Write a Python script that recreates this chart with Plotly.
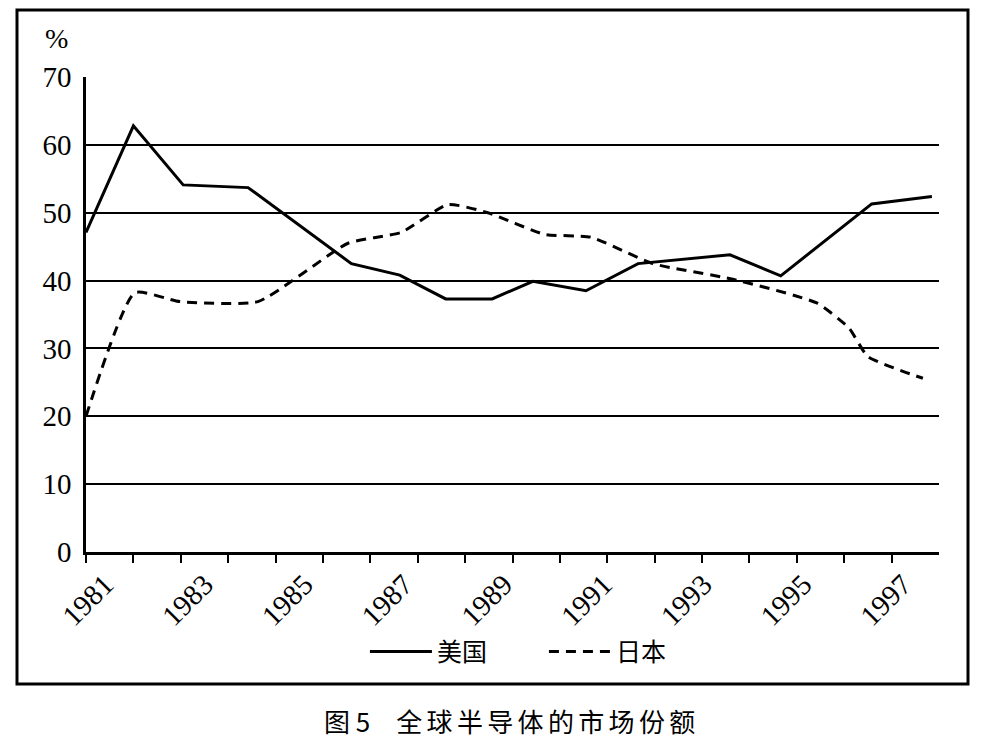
import plotly.graph_objects as go

# ---- data ----
us_years = [1981.0, 1982.0, 1983.05, 1984.42, 1986.6, 1987.62, 1988.59, 1989.57,
            1990.43, 1991.55, 1992.65, 1994.59, 1995.66, 1997.58, 1998.85]
us_share = [47.1, 62.8, 54.1, 53.7, 42.5, 40.8, 37.3, 37.3,
            39.9, 38.5, 42.5, 43.8, 40.7, 51.3, 52.4]

jp_years = [1981.0, 1982.03, 1982.98, 1984.63, 1986.53, 1987.65, 1988.64, 1989.48,
            1990.68, 1991.65, 1992.96, 1994.65, 1996.42, 1997.1, 1997.5, 1998.66]
jp_share = [20.0, 38.2, 36.9, 36.9, 45.5, 47.1, 51.2, 50.0,
            46.8, 46.4, 42.5, 40.2, 36.7, 33.0, 28.8, 25.6]

year_ticks = list(range(1981, 1999))
label_years = [1981, 1983, 1985, 1987, 1989, 1991, 1993, 1995, 1997]
y_ticks = [0, 10, 20, 30, 40, 50, 60, 70]

series_names = ["美国", "日本"]
caption = "图 5\u2003全\u2006球\u2006半\u2006导\u2006体\u2006的\u2006市\u2006场\u2006份\u2006额"
unit_label = "%"

SERIF = "'Times New Roman', 'Liberation Serif', 'DejaVu Serif', serif"
CJK = "Noto Sans CJK SC"

fig = go.Figure()
fig.add_trace(go.Scatter(x=us_years, y=us_share, mode="lines", name=series_names[0],
                         line=dict(color="black", width=3)))
fig.add_trace(go.Scatter(x=jp_years, y=jp_share, mode="lines", name=series_names[1],
                         line=dict(color="black", width=3, dash="10px,7px",
                                   shape="spline", smoothing=0.5)))

# page body has an 8px default margin, so the figure is 8px smaller
fig.update_layout(
    width=977, height=737, autosize=False,
    margin=dict(l=78, r=46, t=69, b=193),
    paper_bgcolor="white", plot_bgcolor="white",
    showlegend=True,
    legend=dict(orientation="h", x=0.327, xanchor="left", y=-0.21, yanchor="middle",
                font=dict(family=CJK, size=25, color="black"),
                itemwidth=62, entrywidth=102, entrywidthmode="pixels",
                tracegroupgap=0, bgcolor="rgba(0,0,0,0)"),
    xaxis=dict(range=[1981, 1999], tickmode="array", tickvals=year_ticks,
               ticktext=[""] * len(year_ticks),
               ticks="outside", ticklen=8, tickwidth=2, tickcolor="black",
               showline=True, linewidth=2.5, linecolor="black",
               showgrid=False, zeroline=False, fixedrange=True),
    xaxis2=dict(range=[1980.62, 1997.72], overlaying="x", anchor="y", side="bottom",
                tickmode="array", tickvals=label_years,
                ticktext=[str(v) for v in label_years], tickangle=-45,
                ticks="outside", ticklen=3, tickcolor="rgba(0,0,0,0)",
                showline=False, showgrid=False, zeroline=False,
                tickfont=dict(family=SERIF, size=29, color="black")),
    yaxis=dict(range=[0, 70], tickmode="array", tickvals=y_ticks,
               showgrid=True, gridcolor="black", gridwidth=2,
               showline=True, linewidth=2.5, linecolor="black",
               zeroline=False, ticks="", ticklabelstandoff=6,
               tickfont=dict(family=SERIF, size=29, color="black")),
)

# invisible helper so the label axis is rendered
fig.add_trace(go.Scatter(x=[label_years[0]], y=[None], xaxis="x2", yaxis="y",
                         showlegend=False, hoverinfo="skip", mode="lines"))

# outer frame
fig.add_shape(type="rect", xref="paper", yref="paper",
              x0=-0.0809, x1=1.034, y0=-0.278, y1=1.141,
              line=dict(color="black", width=3), layer="above")

fig.add_annotation(text=unit_label, xref="paper", yref="paper", x=-0.034, y=1.082,
                   xanchor="center", yanchor="middle",
                   showarrow=False, font=dict(family=SERIF, size=28, color="black"))
fig.add_annotation(text=caption, xref="paper", yref="paper", x=0.497, y=-0.354,
                   xanchor="center", yanchor="middle",
                   showarrow=False, font=dict(family=CJK, size=26, color="black"))

fig.write_html("out.html")
